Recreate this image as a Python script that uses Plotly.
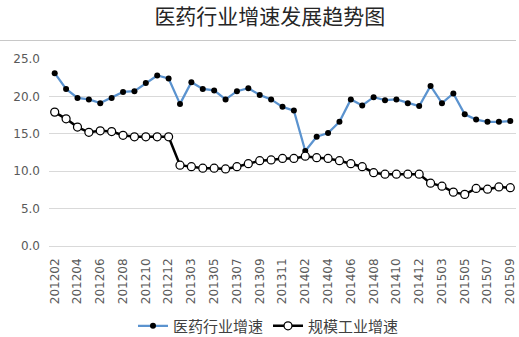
import plotly.graph_objects as go

# Monthly periods (January is merged into February in the source statistics)
periods = (
    [f"2012{m:02d}" for m in range(2, 13)]
    + [f"2013{m:02d}" for m in range(2, 13)]
    + [f"2014{m:02d}" for m in range(2, 13)]
    + [f"2015{m:02d}" for m in range(2, 10)]
)

# Growth rate of the pharmaceutical industry (%)
pharma_growth = [
    23.1, 21.0, 19.8, 19.6, 19.1, 19.8, 20.6, 20.7, 21.8, 22.8, 22.4,
    19.0, 21.9, 21.0, 20.8, 19.6, 20.7, 21.1, 20.2, 19.6, 18.6, 18.1,
    12.7, 14.6, 15.1, 16.6, 19.6, 18.8, 19.9, 19.5, 19.6, 19.1, 18.7,
    21.4, 19.1, 20.4, 17.6, 16.9, 16.6, 16.6, 16.7,
]

# Growth rate of industry above designated size (%)
industry_growth = [
    17.9, 17.0, 15.9, 15.2, 15.4, 15.3, 14.8, 14.6, 14.6, 14.6, 14.6,
    10.8, 10.6, 10.4, 10.4, 10.3, 10.6, 11.0, 11.4, 11.5, 11.7, 11.7,
    12.0, 11.8, 11.7, 11.4, 11.0, 10.6, 9.8, 9.6, 9.6, 9.6, 9.6,
    8.4, 8.0, 7.2, 6.9, 7.7, 7.6, 7.9, 7.8,
]

y_ticks = [0, 5, 10, 15, 20, 25]
x_ticks = periods[::2]

tick_font = dict(family="DejaVu Sans, Verdana, sans-serif", size=12, color="#595959")
cjk = "Noto Sans CJK SC, sans-serif"

fig = go.Figure()
fig.add_trace(go.Scatter(
    x=periods, y=pharma_growth, name="医药行业增速",
    mode="lines+markers",
    line=dict(color="#5b93cf", width=2.25),
    marker=dict(color="#000000", size=6, symbol="circle"),
))
fig.add_trace(go.Scatter(
    x=periods, y=industry_growth, name="规模工业增速",
    mode="lines+markers",
    line=dict(color="#000000", width=2.5),
    marker=dict(color="#ffffff", size=8, symbol="circle",
                line=dict(color="#000000", width=1.25)),
))

# thin rule separating the title from the chart body
fig.add_shape(type="line", xref="paper", yref="paper",
              x0=-0.105, x1=1.0, y0=1.0989, y1=1.0989,
              line=dict(color="#c8c8c8", width=1))

fig.update_layout(
    width=519, height=337,
    margin=dict(l=49, r=3, t=59, b=91, autoexpand=False),
    paper_bgcolor="#ffffff", plot_bgcolor="#ffffff",
    title=dict(text="医药行业增速发展趋势图", x=0.52, xanchor="center",
               y=0.95, yanchor="middle", yref="container",
               font=dict(family=cjk, size=21, color="#262626")),
    showlegend=True,
    legend=dict(orientation="h", x=0.47, xanchor="center",
                y=-0.428, yanchor="middle",
                font=dict(family=cjk, size=15, color="#404040"),
                itemwidth=30, bgcolor="rgba(0,0,0,0)"),
    xaxis=dict(type="category", tickmode="array", tickvals=x_ticks,
               ticktext=x_ticks, tickangle=-90, tickfont=tick_font,
               showgrid=False, showline=False, ticks="",
               ticklabelstandoff=9, automargin=False,
               range=[-0.5, len(periods) - 0.5]),
    yaxis=dict(range=[0, 25], tickmode="array", tickvals=y_ticks,
               ticktext=[f"{v:.1f}" for v in y_ticks], tickfont=tick_font,
               showgrid=True, gridcolor="#d9d9d9", gridwidth=1,
               zeroline=True, zerolinecolor="#d9d9d9", zerolinewidth=1,
               showline=False, ticks="", ticklabelstandoff=8,
               automargin=False),
)

fig.write_html("out.html")
